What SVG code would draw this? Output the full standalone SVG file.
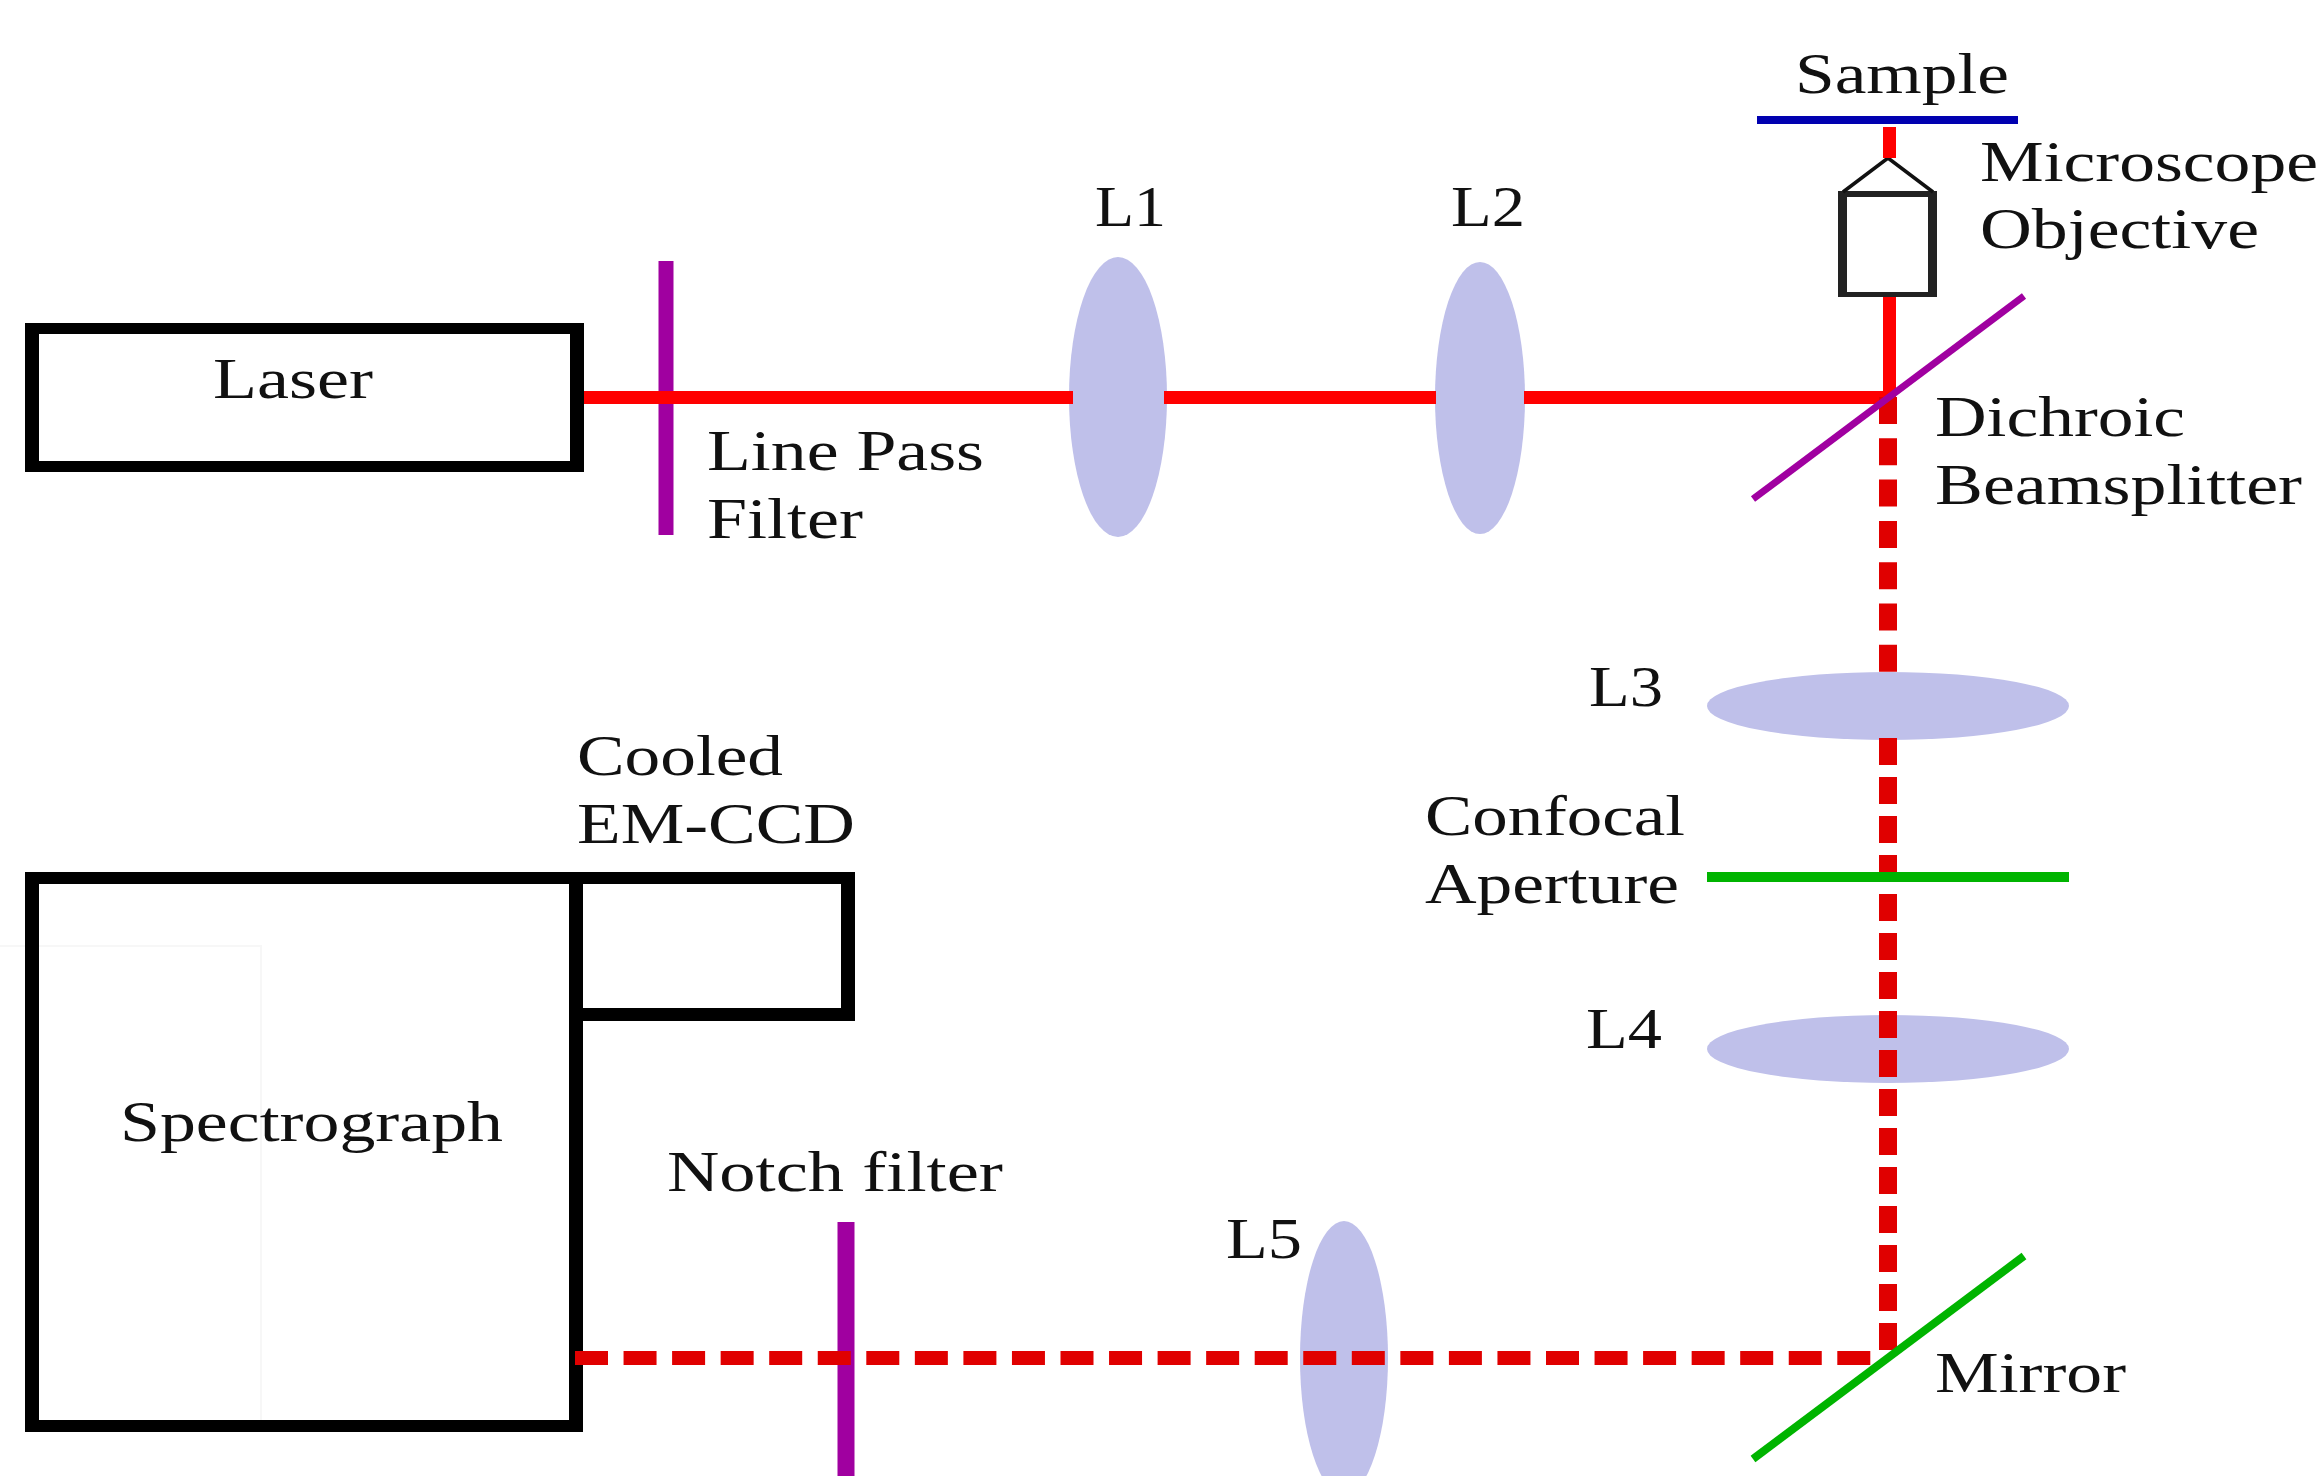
<svg xmlns="http://www.w3.org/2000/svg" width="2320" height="1476" viewBox="0 0 2320 1476">
<style>
text{font-family:"Liberation Serif","Times New Roman",serif;font-size:58px;fill:#111}
.box{fill:#000;fill-rule:evenodd}
.lens{fill:#bfc0ea}
.beam{fill:none;stroke:#f00;stroke-width:13}
.ret{fill:none;stroke:#e00000}
.filter{stroke:#a000a0}
.green{stroke:#00b400}
</style>
<rect width="2320" height="1476" fill="#fff"/>
<path d="M0 946H261V1426" fill="none" stroke="#f7f7f7" stroke-width="2"/>
<g id="laser"><path class="box" d="M25 323H584V472H25ZM39 334V461H570V334Z"/><text x="213" y="398" textLength="160" lengthAdjust="spacingAndGlyphs">Laser</text></g>
<g id="spectrograph"><path class="box" d="M25 872H583V1432H25ZM39 884V1420H569V884Z"/><text x="120" y="1141" textLength="383" lengthAdjust="spacingAndGlyphs">Spectrograph</text></g>
<g id="ccd"><path class="box" d="M569 872H855V1021H569ZM583 884V1008H841V884Z"/><text x="577" y="775" textLength="206" lengthAdjust="spacingAndGlyphs">Cooled</text><text x="577" y="843" textLength="278" lengthAdjust="spacingAndGlyphs">EM-CCD</text></g>
<g id="line-pass-filter"><path class="filter" d="M666 261V535" stroke-width="15"/><text x="707" y="470" textLength="277" lengthAdjust="spacingAndGlyphs">Line Pass</text><text x="707" y="538" textLength="156" lengthAdjust="spacingAndGlyphs">Filter</text></g>
<g id="notch-filter"><path class="filter" d="M846 1222V1476" stroke-width="17"/><text x="667" y="1191" textLength="336" lengthAdjust="spacingAndGlyphs">Notch filter</text></g>
<g id="l1"><ellipse class="lens" cx="1118" cy="397" rx="49" ry="140"/><text x="1095" y="226" textLength="71" lengthAdjust="spacingAndGlyphs">L1</text></g>
<g id="l2"><ellipse class="lens" cx="1480" cy="398" rx="45" ry="136"/><text x="1451" y="226" textLength="74" lengthAdjust="spacingAndGlyphs">L2</text></g>
<g id="l3"><ellipse class="lens" cx="1888" cy="706" rx="181" ry="34"/><text x="1589" y="706" textLength="74" lengthAdjust="spacingAndGlyphs">L3</text></g>
<g id="l4"><ellipse class="lens" cx="1888" cy="1049" rx="181" ry="34"/><text x="1586" y="1048" textLength="76" lengthAdjust="spacingAndGlyphs">L4</text></g>
<g id="l5"><ellipse class="lens" cx="1344" cy="1358" rx="44" ry="137"/><text x="1226" y="1258" textLength="76" lengthAdjust="spacingAndGlyphs">L5</text></g>
<g id="objective"><path d="M1838 191H1937V297H1838ZM1847 197V292H1928V197Z" fill="#222" fill-rule="evenodd"/><path d="M1843 192L1888 158L1933 192" fill="none" stroke="#111" stroke-width="3.500"/><text x="1980" y="181" textLength="338" lengthAdjust="spacingAndGlyphs">Microscope</text><text x="1980" y="248" textLength="279" lengthAdjust="spacingAndGlyphs">Objective</text></g>
<g id="connectors">
<path class="beam" d="M584 397.500H1073M1164 397.500H1436M1524 397.500H1889.500M1889.500 397.500V297M1889.500 158V127"/>
<path class="ret" stroke-width="18" stroke-dasharray="27 14.300" d="M1888 397V672"/>
<path class="ret" stroke-width="18" stroke-dasharray="27 12" d="M1888 738V1350"/>
<path class="ret" stroke-width="14" stroke-dasharray="33 15.550" d="M575 1358H1873"/>
</g>
<g id="sample"><path d="M1757 120H2018" stroke="#0000b0" stroke-width="8"/><text x="1795" y="93" textLength="214" lengthAdjust="spacingAndGlyphs">Sample</text></g>
<g id="dichroic"><path class="filter" d="M1753 499L2024 296" stroke-width="7"/><text x="1935" y="436" textLength="250" lengthAdjust="spacingAndGlyphs">Dichroic</text><text x="1935" y="504" textLength="367" lengthAdjust="spacingAndGlyphs">Beamsplitter</text></g>
<g id="aperture"><path class="green" d="M1707 877H2069" stroke-width="10"/><text x="1425" y="835" textLength="260" lengthAdjust="spacingAndGlyphs">Confocal</text><text x="1425" y="903" textLength="254" lengthAdjust="spacingAndGlyphs">Aperture</text></g>
<g id="mirror"><path class="green" d="M1753 1459L2024 1256" stroke-width="8"/><text x="1935" y="1392" textLength="191" lengthAdjust="spacingAndGlyphs">Mirror</text></g>
</svg>
